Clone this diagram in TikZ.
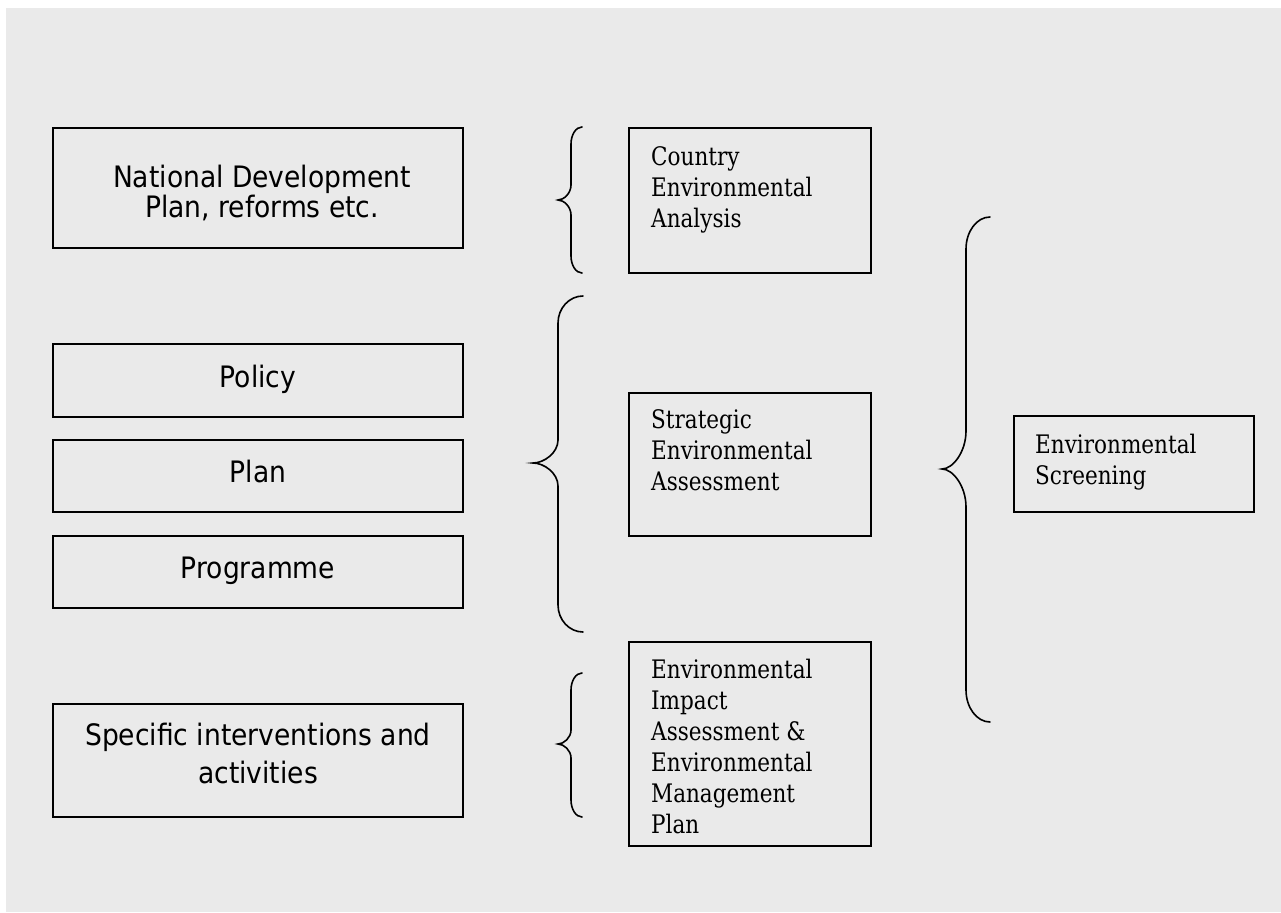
\documentclass[tikz,border=0pt]{standalone}
\usepackage{fontspec}
\newfontfamily\lfont[FakeStretch=0.9]{DejaVu Sans}
\newfontfamily\rfont[FakeStretch=0.845]{DejaVu Serif}
\definecolor{bgcol}{RGB}{234,234,234}
% #1 end x, #2 line x, #3 tip x, #4 top y, #5 tip y, #6 bottom y, #7 end radius, #8 tip radius
\newcommand{\mybrace}[8]{%
  \draw[bracestyle] (#1,#4)
    .. controls ({#2+0.45*(#1-#2)},#4) and (#2,{#4+0.45*#7}) .. (#2,{#4+#7})
    -- (#2,{#5-#8})
    .. controls (#2,{#5-0.45*#8}) and ({#3+0.45*(#2-#3)},#5) .. (#3,#5)
    .. controls ({#3+0.45*(#2-#3)},#5) and (#2,{#5+0.45*#8}) .. (#2,{#5+#8})
    -- (#2,{#6-#7})
    .. controls (#2,{#6-0.45*#7}) and ({#2+0.45*(#1-#2)},#6) .. (#1,#6);}
\begin{document}
\begin{tikzpicture}[x=1pt,y=-1pt,
  box/.style={draw=black, line width=1.6pt, inner sep=0pt, outer sep=0pt},
  lbox/.style={box, minimum width=410pt},
  rbox/.style={box, minimum width=242pt},
  ltext/.style={font=\lfont\fontsize{29.5}{30}\selectfont, align=center, inner sep=0pt, anchor=north},
  rtext/.style={font=\rfont\fontsize{25.5}{31}\selectfont, align=left, inner sep=0pt, anchor=north west},
  bracestyle/.style={draw=black, line width=1.6pt, line cap=round}]

\useasboundingbox (0,0) rectangle (1281,912);
\fill[white] (0,0) rectangle (1281,912);
\fill[bgcol] (6,8) rectangle (1281,912);

% left column boxes
\node[lbox, minimum height=120pt] (ndp) at (258,188) {};
\node[ltext] (ndpt) at (262,163) {\rule{0pt}{24pt}National Development\\Plan, reforms etc.};

\node[lbox, minimum height=73pt] (policy) at (258,380.5) {};
\node[ltext] (policyt) at (258,363) {\rule{0pt}{24pt}Policy};

\node[lbox, minimum height=72pt] (plan) at (258,476) {};
\node[ltext] (plant) at (258,458) {\rule{0pt}{24pt}Plan};

\node[lbox, minimum height=72pt] (prog) at (258,572) {};
\node[ltext] (progt) at (258,554) {\rule{0pt}{24pt}Programme};

\node[lbox, minimum height=113pt] (spec) at (258,760.5) {};
\node[ltext, font=\lfont\fontsize{29.5}{38}\selectfont] (spect) at (258,721) {\rule{0pt}{24pt}Specific interventions and\\activities};

% middle column boxes
\node[rbox, minimum height=145pt] (cea) at (750,200.5) {};
\node[rtext] (ceat) at (651,145) {\rule{0pt}{20pt}Country\\Environmental\\Analysis};

\node[rbox, minimum height=143pt] (sea) at (750,464.5) {};
\node[rtext] (seat) at (651,408) {\rule{0pt}{20pt}Strategic\\Environmental\\Assessment};

\node[rbox, minimum height=204pt] (eia) at (750,744) {};
\node[rtext] (eiat) at (651,658) {\rule{0pt}{20pt}Environmental\\Impact\\Assessment \&\\Environmental\\Management\\Plan};

% right box
\node[box, minimum width=240pt, minimum height=96pt] (es) at (1134,464) {};
\node[rtext] (est) at (1035,433) {\rule{0pt}{20pt}Environmental\\Screening};

% braces
\mybrace{582}{571}{558}{127}{200}{273}{17}{15}
\mybrace{583}{558}{533}{296}{463}{632}{27}{23}
\mybrace{582}{571}{558}{673}{744}{817}{17}{14}
\mybrace{990}{966}{942}{217}{469}{722}{32}{38}
\end{tikzpicture}
\end{document}
